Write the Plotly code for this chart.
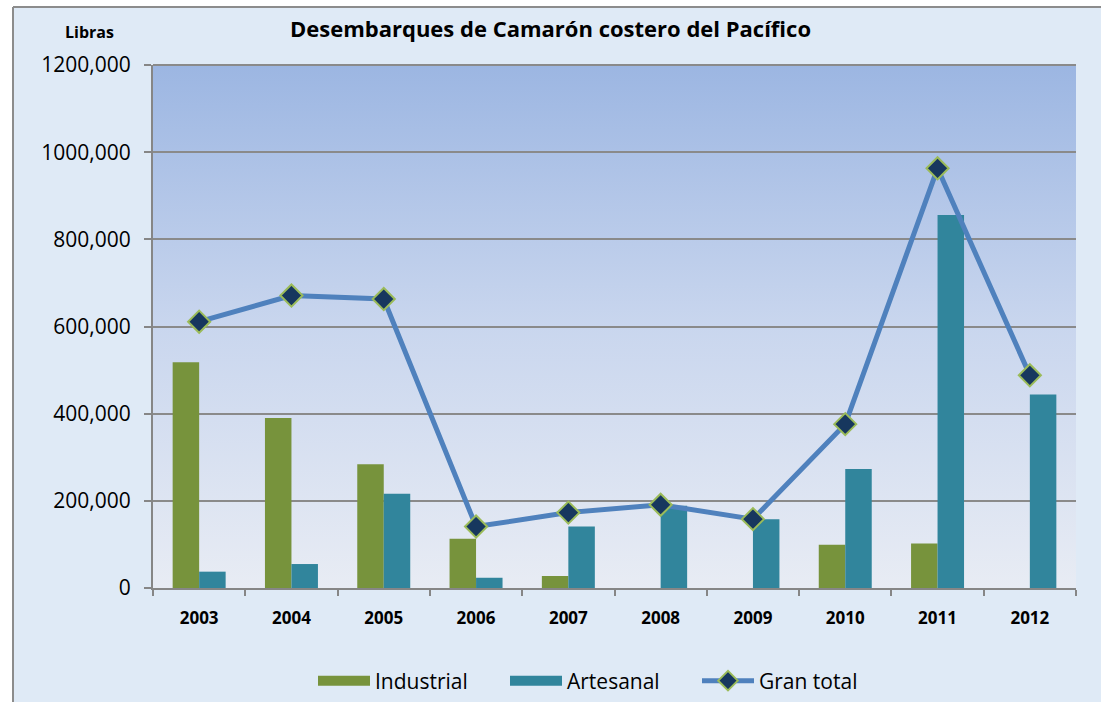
import base64
import plotly.graph_objects as go

years = ["2003", "2004", "2005", "2006", "2007", "2008", "2009", "2010", "2011", "2012"]
industrial = [518000, 390000, 284000, 113000, 27500, 0, 0, 99000, 102000, 0]
artesanal = [37500, 55000, 216000, 23500, 141000, 189000, 158000, 273000, 856000, 444000]
gran_total = [611000, 671000, 663000, 141000, 173000, 191000, 158000, 376000, 963000, 488000]

y_tickvals = [0, 200000, 400000, 600000, 800000, 1000000, 1200000]
y_ticktext = ["0", "200,000", "400,000", "600,000", "800,000", "1000,000", "1200,000"]

W, H = 1101, 702
L, R, T, B = 153, 25, 65, 114
pw, ph = W - L - R, H - T - B


def px_x(x):
    return (x - L) / pw


def px_y(y):
    return (H - B - y) / ph


FONT = "Open Sans"
C_IND = "#77933c"
C_ART = "#31859c"

svg = ("<svg xmlns='http://www.w3.org/2000/svg' width='100' height='100' preserveAspectRatio='none'>"
       "<defs><linearGradient id='g' x1='0' y1='0' x2='0' y2='1'>"
       "<stop offset='0' stop-color='#9cb6e2'/>"
       "<stop offset='0.5' stop-color='#c9d6ee'/>"
       "<stop offset='1' stop-color='#e8ecf4'/>"
       "</linearGradient></defs><rect width='100' height='100' fill='url(#g)'/></svg>")
svg_uri = "data:image/svg+xml;base64," + base64.b64encode(svg.encode()).decode()

fig = go.Figure()
fig.add_trace(go.Bar(x=years, y=industrial, name="Industrial", showlegend=False,
                     marker=dict(color=C_IND, line=dict(width=0))))
fig.add_trace(go.Bar(x=years, y=artesanal, name="Artesanal", showlegend=False,
                     marker=dict(color=C_ART, line=dict(width=0))))
fig.add_trace(go.Scatter(x=years, y=gran_total, name="Gran total", mode="lines+markers",
                         showlegend=False,
                         line=dict(color="#4f81bd", width=5),
                         marker=dict(symbol="diamond", size=17, color="#17375e",
                                     line=dict(color="#9bbb59", width=2))))
# legend entries (wide swatches like the original)
fig.add_trace(go.Scatter(x=[None], y=[None], name="Industrial", mode="lines",
                         line=dict(color=C_IND, width=14)))
fig.add_trace(go.Scatter(x=[None], y=[None], name="Artesanal", mode="lines",
                         line=dict(color=C_ART, width=14)))
fig.add_trace(go.Scatter(x=[None], y=[None], name="Gran total", mode="lines+markers",
                         line=dict(color="#4f81bd", width=5),
                         marker=dict(symbol="diamond", size=15, color="#17375e",
                                     line=dict(color="#9bbb59", width=2))))

fig.update_layout(
    width=W, height=H,
    margin=dict(l=L, r=R, t=T, b=B, autoexpand=False),
    paper_bgcolor="#dfeaf6",
    plot_bgcolor="rgba(0,0,0,0)",
    barmode="group", bargap=0.426, bargroupgap=0,
    font=dict(family=FONT, color="#000000"),
    title=dict(text="<b>Desembarques de Camarón costero del Pacífico</b>",
               x=0.5, xref="container", xanchor="center",
               y=1 - 29 / H, yref="container", yanchor="middle",
               font=dict(family=FONT, size=22, color="#000000")),
    showlegend=True,
    legend=dict(orientation="h", x=px_x(313), xanchor="left", y=px_y(681), yanchor="middle",
                font=dict(family=FONT, size=21), bgcolor="rgba(0,0,0,0)",
                traceorder="normal", itemwidth=52, entrywidth=125, entrywidthmode="pixels"),
    xaxis=dict(type="category", range=[-0.5, 9.5], autorange=False,
               showline=True, linecolor="#868686", linewidth=2,
               ticks="outside", tickson="boundaries", ticklen=6, tickcolor="#868686", tickwidth=2,
               tickfont=dict(family=FONT, size=17, color="#000000", weight="bold"), showgrid=False,
               ticklabelstandoff=14),
    yaxis=dict(range=[0, 1200000], tickvals=y_tickvals, ticktext=y_ticktext,
               showline=True, linecolor="#868686", linewidth=2,
               ticks="outside", ticklen=7, tickcolor="#868686", tickwidth=2,
               showgrid=True, gridcolor="#8a8a8a", gridwidth=1.6, zeroline=False,
               tickfont=dict(family=FONT, size=21, color="#000000"),
               ticklabelstandoff=9),
    images=[dict(source=svg_uri, xref="paper", yref="paper", x=0, y=1, sizex=1, sizey=1,
                 xanchor="left", yanchor="top", sizing="stretch", layer="below")],
    shapes=[
        dict(type="rect", xref="paper", yref="paper", x0=px_x(0), x1=px_x(13), y0=px_y(H), y1=px_y(0),
             fillcolor="white", line=dict(width=0), layer="below"),
        dict(type="rect", xref="paper", yref="paper", x0=px_x(0), x1=px_x(W), y0=px_y(7), y1=px_y(0),
             fillcolor="white", line=dict(width=0), layer="below"),
        dict(type="line", xref="paper", yref="paper", x0=px_x(13), x1=px_x(13), y0=px_y(H), y1=px_y(7),
             line=dict(color="#8c8c8c", width=2)),
        dict(type="line", xref="paper", yref="paper", x0=px_x(13), x1=px_x(W), y0=px_y(7), y1=px_y(7),
             line=dict(color="#8c8c8c", width=2)),
        dict(type="line", xref="paper", yref="paper", x0=0, x1=1, y0=1, y1=1,
             line=dict(color="#8a8a8a", width=2)),
    ],
    annotations=[dict(text="<b>Libras</b>", xref="paper", yref="paper", x=px_x(89), y=px_y(32),
                      xanchor="center", yanchor="middle", showarrow=False,
                      font=dict(family=FONT, size=16, color="#000000"))],
)

fig.write_html("out.html", config={"displayModeBar": False},
               post_script="document.body.style.margin='0';")
